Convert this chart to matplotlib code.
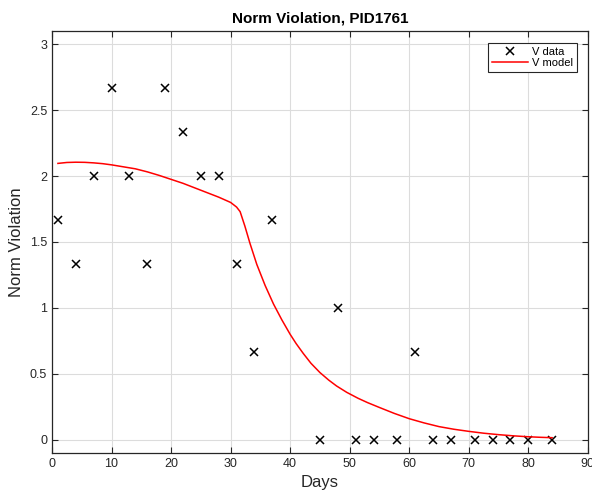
import matplotlib
matplotlib.use('Agg')
import matplotlib.pyplot as plt

plt.rcParams['font.family'] = ['Liberation Sans', 'DejaVu Sans']

# observed data
days = [1, 4, 7, 10, 13, 16, 19, 22, 25, 28, 31, 34, 37,
        45, 48, 51, 54, 58, 61, 64, 67, 71, 74, 77, 80, 84]
v_data = [1.667, 1.333, 2.0, 2.667, 2.0, 1.333, 2.667, 2.333, 2.0, 2.0, 1.333, 0.667, 1.667,
          0.0, 1.0, 0.0, 0.0, 0.0, 0.667, 0.0, 0.0, 0.0, 0.0, 0.0, 0.0, 0.0]

# model curve
model_days = [1, 2.5, 4, 5.5, 7, 8.5, 10, 12, 14, 16, 18, 20, 22, 24, 26, 28, 29, 30,
              31, 31.6, 32.4, 33.25, 34.4, 35.8, 37.2, 38.6, 40, 41, 42.2, 43.5, 45,
              46.5, 47.8, 49.5, 51.4, 53, 55, 57.5, 60, 62.5, 65, 67.5, 70, 72.5,
              75, 77.5, 80, 82, 84]
v_model = [2.096, 2.103, 2.105, 2.104, 2.1, 2.094, 2.085, 2.07, 2.055, 2.032, 2.005,
           1.975, 1.945, 1.91, 1.875, 1.84, 1.82, 1.8, 1.765, 1.73, 1.62, 1.49, 1.33,
           1.17, 1.03, 0.91, 0.80, 0.73, 0.655, 0.58, 0.51, 0.452, 0.408, 0.36, 0.315,
           0.282, 0.245, 0.2, 0.16, 0.128, 0.10, 0.08, 0.064, 0.05, 0.039, 0.03,
           0.023, 0.019, 0.016]

fig = plt.figure(figsize=(5.92, 4.92), dpi=100)
ax = fig.add_axes([0.0878, 0.0793, 0.9052, 0.8577])

ax.plot(days, v_data, 'x', color='black', markersize=6, markeredgewidth=1.1, label='V data')
ax.plot(model_days, v_model, '-', color='red', linewidth=1.1, label='V model')

ax.set_xlim(0, 90)
ax.set_ylim(-0.1, 3.1)
ax.set_xticks(range(0, 91, 10))
ax.set_yticks([0, 0.5, 1, 1.5, 2, 2.5, 3])
ax.set_yticklabels(['0', '0.5', '1', '1.5', '2', '2.5', '3'])

ax.grid(True, color='#dcdcdc', linewidth=0.8)
ax.set_axisbelow(True)
ax.tick_params(direction='in', top=True, right=True, length=4, width=0.8,
               labelsize=9, colors='#262626')
for s in ax.spines.values():
    s.set_color('#262626')
    s.set_linewidth(0.9)

ax.set_xlabel('Days', fontsize=12, color='#262626', labelpad=4)
ax.set_ylabel('Norm Violation', fontsize=12, color='#262626')
ax.yaxis.set_label_coords(-0.052, 0.5)
ax.set_title('Norm Violation, PID1761', fontsize=11, fontweight='bold', pad=6)

leg = ax.legend(loc='upper right', bbox_to_anchor=(0.979, 0.972), borderaxespad=0,
                fontsize=8, fancybox=False, framealpha=1,
                edgecolor='#262626', borderpad=0.35, handlelength=3.3,
                handletextpad=0.3, labelspacing=0.15)
leg.get_frame().set_linewidth(0.8)

fig.savefig('out.png', dpi=100)
